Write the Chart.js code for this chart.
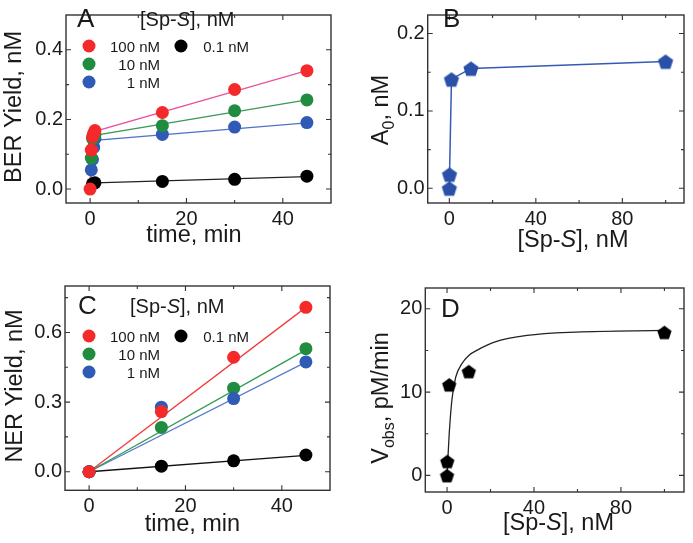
<!DOCTYPE html>
<html>
<head>
<meta charset="utf-8">
<script src="https://cdn.jsdelivr.net/npm/chart.js@4/dist/chart.umd.min.js"></script>
<style>
  body { margin: 0; background: #fff; }
  canvas { position: absolute; left: 0; top: 0; }
</style>
</head>
<body>
<canvas id="cA" width="693" height="543"></canvas>
<canvas id="cB" width="693" height="543"></canvas>
<canvas id="cC" width="693" height="543"></canvas>
<canvas id="cD" width="693" height="543"></canvas>
<script>
// series names / colours, shared by panels A and C
const concLabels = ['100 nM', '10 nM', '1 nM', '0.1 nM'];
const dotColors  = ['#f42a2a', '#1f8c3f', '#2f5bb7', '#000000'];
const fitColorsA = ['#e8559f', '#3b9a58', '#5073c6', '#222222'];
const fitColorsC = ['#f03c3c', '#2f9a50', '#5a7ad0', '#111111'];

// A: BER yield (nM) vs time (min)
const berT = [
  [0, 0.25, 0.5, 0.75, 1, 15, 30, 45],
  [0.25, 0.5, 1, 15, 30, 45],
  [0.25, 0.5, 0.75, 1, 15, 30, 45],
  [0.5, 1, 15, 30, 45]
];
const berY = [
  [0, 0.112, 0.15, 0.16, 0.168, 0.22, 0.286, 0.34],
  [0.089, 0.145, 0.155, 0.182, 0.225, 0.256],
  [0.055, 0.085, 0.12, 0.145, 0.157, 0.178, 0.191],
  [0.015, 0.018, 0.022, 0.028, 0.037]
];
const berFitT = [0, 0.25, 0.5, 1, 45];
const berFitY = [
  [0, 0.11, 0.15, 0.166, 0.34],
  [0, 0.09, 0.14, 0.154, 0.256],
  [0, 0.06, 0.10, 0.14, 0.19],
  [0, 0.01, 0.016, 0.018, 0.036]
];

// B: A0 (nM) vs [Sp-S] (nM)
const spConc = [0, 0.1, 1, 10, 100];
const a0Vals = [0, 0.018, 0.141, 0.155, 0.164];

// C: NER yield (nM) vs time (min)
const nerT = [0, 15, 30, 45];
const nerY = [
  [0, 0.259, 0.493, 0.708],
  [0, 0.191, 0.36, 0.53],
  [0, 0.278, 0.315, 0.473],
  [0, 0.024, 0.047, 0.072]
];
const nerFitT = [0, 45];
const nerFitY = [[0, 0.708], [0, 0.525], [0, 0.472], [0, 0.07]];

// D: Vobs (pM/min) vs [Sp-S] (nM)
const vobsVals = [0, 1.7, 10.9, 12.5, 17.2];
const vCurveX = [0, 0.4, 1, 2.3, 4, 6.8, 10, 14.3, 21.8, 36.8, 59.3, 100];
const vCurveY = [0, 2.0, 5.0, 9.2, 11.8, 13.4, 14.4, 15.1, 16.0, 16.8, 17.2, 17.4];

// axis ticks
const timeMajor = [0, 20, 40], timeMinor = [10, 30];
const concMajor = [0, 40, 80], concMinor = [20, 60, 100];
const berMajor = [0, 0.2, 0.4], berMinor = [0.1, 0.3];
const a0Major = [0, 0.1, 0.2], a0Minor = [0.05, 0.15];
const nerMajor = [0, 0.3, 0.6], nerMinor = [0.15, 0.45, 0.75];
const vMajor = [0, 10, 20], vMinor = [5, 15];

const PAGE_W = 693, PAGE_H = 543;
const FONT = '"Liberation Sans", Arial, Helvetica, sans-serif';
const INK = '#1a1a1a';

const pts = (xs, ys) => xs.map((x, i) => ({x: x, y: ys[i]}));

function pentagon(color, r) {
  const s = Math.ceil(2 * r + 2);
  const c = document.createElement('canvas');
  c.width = s; c.height = s;
  const g = c.getContext('2d');
  g.fillStyle = color;
  g.beginPath();
  for (let i = 0; i < 5; i++) {
    const a = -Math.PI / 2 + i * 2 * Math.PI / 5;
    g.lineTo(s / 2 + r * Math.cos(a), s / 2 + 1 + r * Math.sin(a));
  }
  g.closePath();
  g.fill();
  return c;
}

// runs: [text, style]  style '' | 'i' italic | 's' subscript
function richText(ctx, runs, x, y, size, align, rotate) {
  ctx.save();
  ctx.translate(x, y);
  if (rotate) ctx.rotate(-Math.PI / 2);
  ctx.fillStyle = INK;
  ctx.textBaseline = 'alphabetic';
  ctx.textAlign = 'left';
  const fontOf = st => (st === 'i' ? 'italic ' : '') + (st === 's' ? size * 0.68 : size) + 'px ' + FONT;
  let w = 0;
  runs.forEach(r => { ctx.font = fontOf(r[1]); w += ctx.measureText(r[0]).width; });
  let cx = align === 'center' ? -w / 2 : 0;
  runs.forEach(r => {
    ctx.font = fontOf(r[1]);
    ctx.fillText(r[0], cx, r[1] === 's' ? size * 0.25 : 0);
    cx += ctx.measureText(r[0]).width;
  });
  ctx.restore();
}

const spsRuns = [['[Sp-', ''], ['S', 'i'], ['], nM', '']];

function drawLegend(ctx, top) {
  const rows = [[89, top, 160], [89, top + 18, 160], [89, top + 36, 160], [181, top, 249]];
  ctx.font = '15px ' + FONT;
  ctx.textAlign = 'right';
  ctx.textBaseline = 'alphabetic';
  rows.forEach((r, i) => {
    ctx.fillStyle = dotColors[i];
    ctx.beginPath();
    ctx.arc(r[0], r[1], 6.5, 0, 2 * Math.PI);
    ctx.fill();
    ctx.fillStyle = INK;
    ctx.fillText(concLabels[i], r[2], r[1] + 5.5);
  });
}

const framePlugin = {
  id: 'frame',
  afterDatasetsDraw(chart, args, o) {
    const ctx = chart.ctx, a = chart.chartArea, x = chart.scales.x, y = chart.scales.y;
    ctx.save();
    ctx.strokeStyle = '#333';
    ctx.lineWidth = 1.4;
    ctx.strokeRect(a.left, a.top, a.right - a.left, a.bottom - a.top);
    ctx.lineWidth = 1.1;
    ctx.beginPath();
    const xt = (vals, len) => vals.forEach(v => {
      const p = x.getPixelForValue(v);
      ctx.moveTo(p, a.bottom); ctx.lineTo(p, a.bottom - len);
      ctx.moveTo(p, a.top); ctx.lineTo(p, a.top + len);
    });
    const yt = (vals, len) => vals.forEach(v => {
      const p = y.getPixelForValue(v);
      ctx.moveTo(a.left, p); ctx.lineTo(a.left + len, p);
      ctx.moveTo(a.right, p); ctx.lineTo(a.right - len, p);
    });
    xt(o.xMajor, 5); xt(o.xMinor, 3);
    yt(o.yMajor, 5); yt(o.yMinor, 3);
    ctx.stroke();
    if (o.draw) o.draw(ctx);
    ctx.restore();
  }
};

function makeChart(id, box, xr, yr, datasets, draw) {
  const tickFont = {family: FONT, size: 20};
  return new Chart(document.getElementById(id), {
    type: 'scatter',
    data: {datasets: datasets},
    options: {
      responsive: false,
      animation: false,
      events: [],
      layout: {padding: {left: box.padL, right: PAGE_W - box.right, top: box.top, bottom: PAGE_H - box.bottom - 40}},
      scales: {
        x: {
          type: 'linear', min: xr.min, max: xr.max,
          grid: {display: false, drawTicks: false}, border: {display: false},
          ticks: {font: tickFont, color: INK, padding: 4, maxRotation: 0, autoSkip: false,
                  callback: v => String(v)},
          afterBuildTicks: s => { s.ticks = xr.major.map(v => ({value: v})); },
          afterFit: s => { s.height = 40; }
        },
        y: {
          type: 'linear', min: yr.min, max: yr.max,
          grid: {display: false, drawTicks: false}, border: {display: false},
          ticks: {font: tickFont, color: INK, padding: 3, autoSkip: false,
                  callback: v => v.toFixed(yr.digits)},
          afterBuildTicks: s => { s.ticks = yr.major.map(v => ({value: v})); },
          afterFit: s => { s.width = box.left - box.padL; }
        }
      },
      plugins: {
        legend: {display: false},
        tooltip: {enabled: false},
        frame: {xMajor: xr.major, xMinor: xr.minor, yMajor: yr.major, yMinor: yr.minor, draw: draw}
      }
    },
    plugins: [framePlugin]
  });
}

function dotSet(data, color, order) {
  return {data: data, showLine: false, pointRadius: 6.5, pointBackgroundColor: color,
          pointBorderWidth: 0, borderColor: color, order: order};
}
function lineSet(data, color, order, width) {
  return {data: data, showLine: true, pointRadius: 0, borderColor: color,
          borderWidth: width || 1.3, order: order};
}

// ---- A
const dsA = [];
[3, 2, 1, 0].forEach(i => dsA.push(lineSet(pts(berFitT, berFitY[i]), fitColorsA[i], 20 + i)));
[3, 2, 1, 0].forEach(i => dsA.push(dotSet(pts(berT[i], berY[i]), dotColors[i], i)));
makeChart('cA', {padL: 0, left: 66, right: 331, top: 0.5, bottom: 203},
  {min: -5, max: 50, major: timeMajor, minor: timeMinor},
  {min: -0.04, max: 0.5, major: berMajor, minor: berMinor, digits: 1},
  dsA,
  ctx => {
    richText(ctx, [['A', '']], 77, 27, 26, 'left');
    richText(ctx, spsRuns, 140, 26, 20, 'left');
    drawLegend(ctx, 46);
    richText(ctx, [['BER Yield, nM', '']], 21, 107, 23.5, 'center', true);
    richText(ctx, [['time, min', '']], 194, 242, 23.5, 'center');
  });

// ---- B
makeChart('cB', {padL: 346, left: 427.7, right: 691, top: 0.5, bottom: 203},
  {min: -10, max: 108.5, major: concMajor, minor: concMinor},
  {min: -0.019, max: 0.224, major: a0Major, minor: a0Minor, digits: 1},
  [
    lineSet(pts(spConc, a0Vals), '#3559b5', 2, 1.5),
    {data: pts(spConc, a0Vals), showLine: false, pointStyle: pentagon('#2a50a8', 8),
     pointRadius: 8, order: 1}
  ],
  ctx => {
    richText(ctx, [['B', '']], 443, 27, 26, 'left');
    richText(ctx, [['A', ''], ['0', 's'], [', nM', '']], 388, 110, 23.5, 'center', true);
    richText(ctx, spsRuns, 573, 247, 23.5, 'center');
  });

// ---- C
const dsC = [];
[3, 2, 1, 0].forEach(i => dsC.push(lineSet(pts(nerFitT, nerFitY[i]), fitColorsC[i], 20 + i)));
[3, 2, 1, 0].forEach(i => dsC.push(dotSet(pts(nerT, nerY[i]), dotColors[i], i === 2 ? 0.5 : i)));
makeChart('cC', {padL: 0, left: 65, right: 330, top: 286, bottom: 490.3},
  {min: -5, max: 50, major: timeMajor, minor: timeMinor},
  {min: -0.08, max: 0.8, major: nerMajor, minor: nerMinor, digits: 1},
  dsC,
  ctx => {
    richText(ctx, [['C', '']], 78, 314, 26, 'left');
    richText(ctx, spsRuns, 130, 313, 20, 'left');
    drawLegend(ctx, 336);
    richText(ctx, [['NER Yield, nM', '']], 22, 386, 23.5, 'center', true);
    richText(ctx, [['time, min', '']], 192.5, 531, 23.5, 'center');
  });

// ---- D
makeChart('cD', {padL: 346, left: 425.3, right: 690, top: 288, bottom: 492},
  {min: -10, max: 109, major: concMajor, minor: concMinor},
  {min: -2, max: 22.5, major: vMajor, minor: vMinor, digits: 0},
  [
    {data: pts(vCurveX, vCurveY), showLine: true, pointRadius: 0, borderColor: '#222',
     borderWidth: 1.3, cubicInterpolationMode: 'monotone', order: 2},
    {data: pts(spConc, vobsVals), showLine: false, pointStyle: pentagon('#000', 7.5),
     pointRadius: 8, order: 1}
  ],
  ctx => {
    richText(ctx, [['D', '']], 441, 317, 26, 'left');
    richText(ctx, [['V', ''], ['obs', 's'], [', pM/min', '']], 388, 398, 23.5, 'center', true);
    richText(ctx, spsRuns, 558.5, 530, 23.5, 'center');
  });
</script>
</body>
</html>
